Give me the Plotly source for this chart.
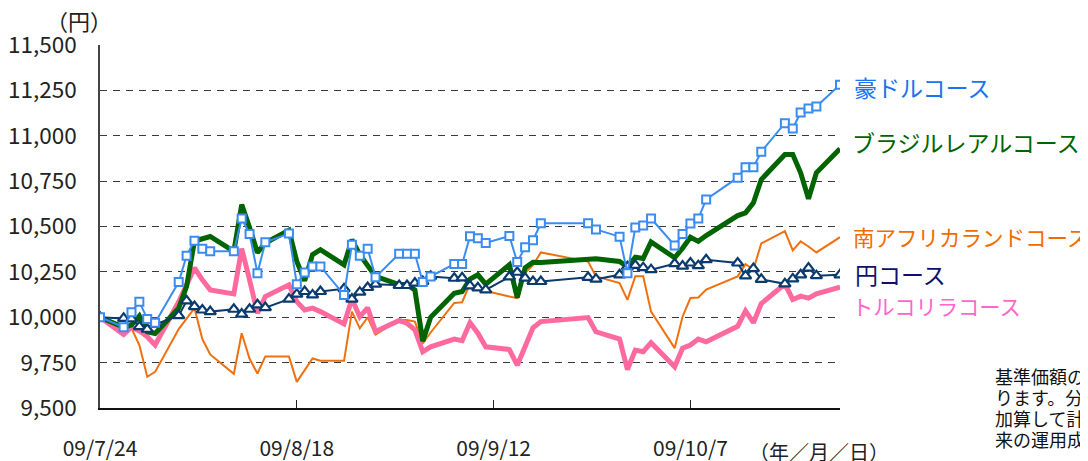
import plotly.graph_objects as go

dates = ["2009-07-24","2009-07-27","2009-07-28","2009-07-29","2009-07-30","2009-07-31",
         "2009-08-03","2009-08-04","2009-08-05","2009-08-06","2009-08-07",
         "2009-08-10","2009-08-11","2009-08-12","2009-08-13","2009-08-14",
         "2009-08-17","2009-08-18","2009-08-19","2009-08-20","2009-08-21",
         "2009-08-24","2009-08-25","2009-08-26","2009-08-27","2009-08-28",
         "2009-08-31","2009-09-01","2009-09-02","2009-09-03","2009-09-04",
         "2009-09-07","2009-09-08","2009-09-09","2009-09-10","2009-09-11",
         "2009-09-14","2009-09-15","2009-09-16","2009-09-17","2009-09-18",
         "2009-09-24","2009-09-25",
         "2009-09-28","2009-09-29","2009-09-30","2009-10-01","2009-10-02",
         "2009-10-05","2009-10-06","2009-10-07","2009-10-08","2009-10-09",
         "2009-10-13","2009-10-14","2009-10-15","2009-10-16",
         "2009-10-19","2009-10-20","2009-10-21","2009-10-22","2009-10-23",
         "2009-10-26"]

aud = [10000, 9945, 10028, 10086, 9991, 9970,
       10194, 10339, 10422, 10378, 10363,
       10363, 10544, 10459, 10243, 10413,
       10461, 10182, 10247, 10280, 10280,
       10123, 10400, 10339, 10378, 10221,
       10350, 10350, 10350, 10194, 10225,
       10293, 10293, 10446, 10435, 10409,
       10448, 10304, 10385, 10424, 10518,
       10518, 10484,
       10444, 10243, 10495, 10505, 10544,
       10396, 10458, 10517, 10544, 10649,
       10769, 10827, 10827, 10912,
       11069, 11040, 11128, 11150, 11161,
       11281]

brl = [10000, 9945, 9957, 10007, 9920, 9911,
       10050, 10170, 10420, 10435, 10445,
       10363, 10621, 10494, 10356, 10409,
       10480, 10307, 10201, 10345, 10372,
       10289, 10427, 10345, 10280, 10225,
       10180, 10180, 10150, 9868, 10000,
       10132, 10142, 10210, 10234, 10182,
       10289, 10108, 10273, 10303, 10302,
       10315, 10322,
       10307, 10278, 10331, 10324, 10415,
       10328, 10380, 10441, 10418, 10450,
       10560, 10575, 10630, 10759,
       10897, 10897, 10796, 10653, 10796,
       10929]

zar = [10000, 9930, 9939, 9847, 9672, 9699,
       9935, 9995, 10050, 9880, 9795,
       9688, 9912, 9771, 9690, 9784,
       9784, 9644, 9709, 9773, 9760,
       9760, 10031, 9939, 10000, 9904,
       9985, 9985, 9976, 9856, 9916,
       10079, 10083, 10185, 10164, 10145,
       10114, 10105, 10245, 10287, 10357,
       10307, 10225,
       10188, 10096, 10226, 10226, 10031,
       9830, 10003, 10106, 10109, 10153,
       10225, 10292, 10263, 10407,
       10475, 10368, 10418, 10390, 10357,
       10441]

jpy = [10000, 9994, 9991, 9948, 9934, 9960,
       10009, 10090, 10059, 10040, 10031,
       10044, 10017, 10044, 10068, 10053,
       10100, 10127, 10142, 10123, 10142,
       10157, 10100, 10138, 10164, 10182,
       10175, 10175, 10188, 10197, 10225,
       10215, 10217, 10173, 10162, 10151,
       10223, 10248, 10216, 10197, 10197,
       10220, 10210,
       10234, 10278, 10286, 10273, 10262,
       10295, 10282, 10299, 10284, 10317,
       10299, 10228, 10268, 10209,
       10184, 10211, 10234, 10271, 10229,
       10234]

try_ = [10000, 9905, 9945, 9925, 9893, 9847,
        10085, 10180, 10272, 10206, 10151,
        10129, 10378, 10206, 10022, 10114,
        10179, 10086, 10040, 10050, 10031,
        9963, 10100, 10003, 10052, 9921,
        9982, 9967, 9930, 9810, 9837,
        9880, 9871, 9970, 9912, 9837,
        9822, 9736, 9837, 9942, 9976,
        9998, 9920,
        9880, 9712, 9819, 9810, 9860,
        9727, 9829, 9847, 9880, 9865,
        9950, 10035, 9970, 10075,
        10183, 10098, 10116, 10105, 10129,
        10166]

series_names = ["豪ドルコース", "ブラジルレアルコース", "南アフリカランドコース", "円コース", "トルコリラコース"]
tick_dates = ["2009-07-24", "2009-08-18", "2009-09-12", "2009-10-07"]
tick_text = ["09/7/24", "09/8/18", "09/9/12", "09/10/7"]
y_ticks = [9500, 9750, 10000, 10250, 10500, 10750, 11000, 11250, 11500]

note_lines = ["基準価額の推移は、信託報酬控除後の価額であ",
              "ります。分配金（課税前）を基準価額に",
              "加算して計算しております。また、当資料は将",
              "来の運用成果を保証するものではありません。"]

FONT = "Noto Sans CJK JP"
C_AUD = "#3a8cf2"
C_BRL = "#006400"
C_ZAR = "#f07010"
C_JPY = "#0b3a6e"
C_TRY = "#ff6a9e"

fig = go.Figure()
fig.add_trace(go.Scatter(x=dates, y=zar, mode="lines", name=series_names[2],
                         line=dict(color=C_ZAR, width=2)))
fig.add_trace(go.Scatter(x=dates, y=try_, mode="lines", name=series_names[4],
                         line=dict(color=C_TRY, width=5)))
fig.add_trace(go.Scatter(x=dates, y=brl, mode="lines", name=series_names[1],
                         line=dict(color=C_BRL, width=5)))
fig.add_trace(go.Scatter(x=dates, y=jpy, mode="lines+markers", name=series_names[3],
                         line=dict(color=C_JPY, width=2),
                         marker=dict(symbol="triangle-up", size=10, color="white",
                                     line=dict(color=C_JPY, width=2.2))))
fig.add_trace(go.Scatter(x=dates, y=aud, mode="lines+markers", name=series_names[0],
                         line=dict(color=C_AUD, width=2),
                         marker=dict(symbol="square", size=8, color="white",
                                     line=dict(color=C_AUD, width=2))))

# page body adds an 8px offset; work in reference-pixel coordinates
OFF = 8
W, H = 1088 - OFF, 461 - OFF
L, R, T, B = 100 - OFF, 840 - OFF, 45 - OFF, 408 - OFF


def px(x):
    return (x - OFF - L) / (R - L)


def py(y):
    return (B - (y - OFF)) / (B - T)


labels = [
    (series_names[0], 852, 87, "#1a73f0", 23),
    (series_names[1], 850, 142, "#006400", 23),
    (series_names[2], 851, 236, "#f26b00", 21.5),
    (series_names[3], 853, 274, "#10106a", 23),
    (series_names[4], 850, 305, "#ff66cc", 21.3),
]
annotations = []
for text, x, y, col, fs in labels:
    annotations.append(dict(text=text, x=px(x), y=py(y), xref="paper", yref="paper",
                            xanchor="left", yanchor="middle", showarrow=False,
                            font=dict(family=FONT, size=fs, color=col)))

annotations.append(dict(text="（円）", x=px(79), y=py(20), xref="paper", yref="paper",
                        xanchor="center", yanchor="middle", showarrow=False,
                        font=dict(family=FONT, size=22, color="#222")))
annotations.append(dict(text="（年／月／日）", x=px(819), y=py(452), xref="paper", yref="paper",
                        xanchor="center", yanchor="middle", showarrow=False,
                        font=dict(family=FONT, size=20, color="#222")))
for i, line in enumerate(note_lines):
    annotations.append(dict(text=line, x=px(993), y=py(376 + 21 * i), xref="paper", yref="paper",
                            xanchor="left", yanchor="middle", showarrow=False,
                            font=dict(family=FONT, size=18, color="#111")))

fig.update_layout(
    width=W, height=H,
    margin=dict(l=L, r=W - R, t=T, b=H - B, pad=0),
    paper_bgcolor="white", plot_bgcolor="white",
    showlegend=False,
    font=dict(family=FONT, color="#222"),
    annotations=annotations,
    xaxis=dict(type="date", range=["2009-07-24", "2009-10-26"],
               tickmode="array", tickvals=tick_dates, ticktext=tick_text,
               ticks="inside", ticklen=8, tickwidth=1.3, tickcolor="#222",
               showline=True, linecolor="#111", linewidth=1.5,
               showgrid=False, zeroline=False, automargin=False,
               tickfont=dict(family=FONT, size=21, color="#222"),
               ticklabelstandoff=21),
    yaxis=dict(range=[9500, 11500], tickmode="array", tickvals=y_ticks,
               tickformat=",d", automargin=False,
               showgrid=True, gridcolor="#3a3a3a", gridwidth=1.2, griddash="7px,6px",
               showline=True, linecolor="#444", linewidth=1.5,
               zeroline=False, ticks="",
               tickfont=dict(family=FONT, size=22.5, color="#222"),
               ticklabelstandoff=17),
)

fig.write_html("out.html")
